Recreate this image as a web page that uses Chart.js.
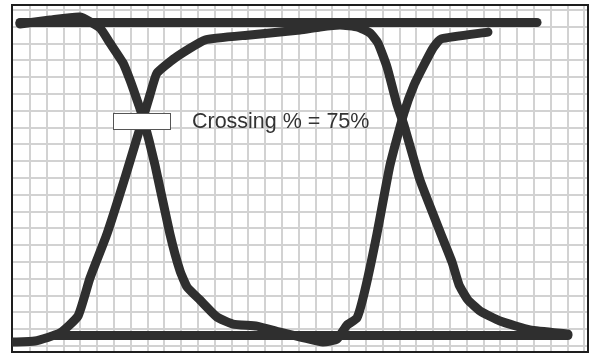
<!DOCTYPE html>
<html>
<head>
<meta charset="utf-8">
<script src="https://cdn.jsdelivr.net/npm/chart.js@4.4.1/dist/chart.umd.min.js"></script>
<style>
  html, body { margin: 0; padding: 0; background: #ffffff; }
  #wrap { width: 591px; height: 354px; }
</style>
</head>
<body>
<div id="wrap"><canvas id="c" width="591" height="354"></canvas></div>
<script>
// ---- data (time and level in grid divisions) ----
const traceA_x = [-0.6, 1.19, 2.98, 4.17, 4.76, 5.54, 5.95, 6.37, 6.73, 7.44, 8.33, 8.93, 9.35, 10.12, 11.13, 12.08, 13.51, 15.06, 17.44, 18.27, 18.87, 19.46, 19.94, 20.65, 21.43, 22.26, 22.86, 23.45, 23.99, 24.46, 27.26];
const traceA_y = [19.16, 19.4, 19.58, 18.92, 18.03, 16.84, 15.83, 14.64, 13.57, 10.77, 6.66, 4.46, 3.51, 2.73, 1.72, 1.3, 1.18, 0.77, 0.23, 0.41, 1.24, 1.66, 3.33, 6.66, 10.77, 13.86, 15.53, 16.72, 17.73, 18.27, 18.68];
const traceB_x = [-1.07, 0.3, 1.79, 2.86, 3.57, 4.58, 5.65, 6.73, 7.14, 7.56, 8.63, 10.42, 13.1, 16.07, 17.26, 18.45, 19.52, 20.24, 20.71, 21.25, 21.85, 22.26, 23.21, 24.46, 25.12, 25.54, 26.07, 26.79, 27.98, 29.76, 32.02];
const traceB_y = [0.23, 0.29, 0.77, 1.78, 4.04, 6.66, 10.0, 13.57, 14.94, 16.24, 17.14, 18.21, 18.51, 18.8, 18.98, 19.1, 18.98, 18.62, 18.03, 16.6, 14.34, 13.15, 9.88, 6.66, 4.99, 3.63, 2.73, 2.08, 1.48, 0.95, 0.71];
const highLevel_x = [-0.6, 30.18];
const highLevel_y = [19.25, 19.25];
const lowLevel_x = [1.49, 32.02];
const lowLevel_y = [0.62, 0.62];
const gridX = Array.from({length: 34}, (_, i) => i);   // 0..33 divisions
const gridY = Array.from({length: 21}, (_, i) => i);   // 0..20 divisions
const crossingLabel = "Crossing % = 75%";

const pts = (xs, ys) => xs.map((x, i) => ({x: x, y: ys[i]}));

const TRACE = '#2f2f2f';
const lineDs = (label, xs, ys) => ({
  label: label,
  data: pts(xs, ys),
  borderColor: TRACE,
  borderWidth: 9,
  pointRadius: 0,
  tension: 0.15,
  borderCapStyle: 'round',
  borderJoinStyle: 'round',
  fill: false
});

const annotationPlugin = {
  id: 'crossingNote',
  afterDatasetsDraw(chart, args, opts) {
    const {ctx} = chart;
    const xs = chart.scales.x, ys = chart.scales.y;
    const l = xs.getPixelForValue(opts.box[0]), r = xs.getPixelForValue(opts.box[1]);
    const t = ys.getPixelForValue(opts.box[2]), b = ys.getPixelForValue(opts.box[3]);
    ctx.save();
    ctx.fillStyle = '#ffffff';
    ctx.strokeStyle = '#555555';
    ctx.lineWidth = 1;
    ctx.fillRect(l, t, r - l, b - t);
    ctx.strokeRect(Math.round(l) + 0.5, Math.round(t) + 0.5, Math.round(r - l), Math.round(b - t));
    ctx.fillStyle = '#333333';
    ctx.font = '21.5px "Liberation Sans", Arial, sans-serif';
    ctx.textBaseline = 'alphabetic';
    ctx.textAlign = 'left';
    ctx.fillText(opts.text, xs.getPixelForValue(opts.textAt[0]), ys.getPixelForValue(opts.textAt[1]));
    ctx.restore();
  }
};

const gridScale = (ticksArr, min, max, position) => ({
  type: 'linear',
  position: position,
  min: min,
  max: max,
  afterBuildTicks: (axis) => { axis.ticks = ticksArr.map(v => ({value: v})); },
  ticks: {display: false},
  grid: {display: true, color: '#d2d2d2', lineWidth: 2, drawTicks: false},
  border: {display: true, color: '#1e1e1e', width: 2}
});

const frameScale = (position, axis) => ({
  type: 'linear',
  axis: axis,
  position: position,
  min: 0, max: 1,
  ticks: {display: false},
  grid: {display: false, drawTicks: false},
  border: {display: true, color: '#1e1e1e', width: 2}
});

new Chart(document.getElementById('c'), {
  type: 'line',
  data: {
    datasets: [
      lineDs('High level', highLevel_x, highLevel_y),
      lineDs('Low level', lowLevel_x, lowLevel_y),
      lineDs('Trace A', traceA_x, traceA_y),
      lineDs('Trace B', traceB_x, traceB_y)
    ]
  },
  options: {
    responsive: false,
    animation: false,
    devicePixelRatio: 1,
    layout: {padding: {left: 12, top: 5, right: 3, bottom: 2}},
    plugins: {
      legend: {display: false},
      tooltip: {enabled: false},
      crossingNote: {
        text: crossingLabel,
        box: [4.94, 8.33, 13.86, 12.91],
        textAt: [9.64, 12.95]
      }
    },
    scales: {
      x: gridScale(gridX, -1.0714, 33.214, 'bottom'),
      y: gridScale(gridY, -0.363, 20.292, 'left'),
      x2: frameScale('top', 'x'),
      y2: frameScale('right', 'y')
    }
  },
  plugins: [annotationPlugin]
});
</script>
</body>
</html>
